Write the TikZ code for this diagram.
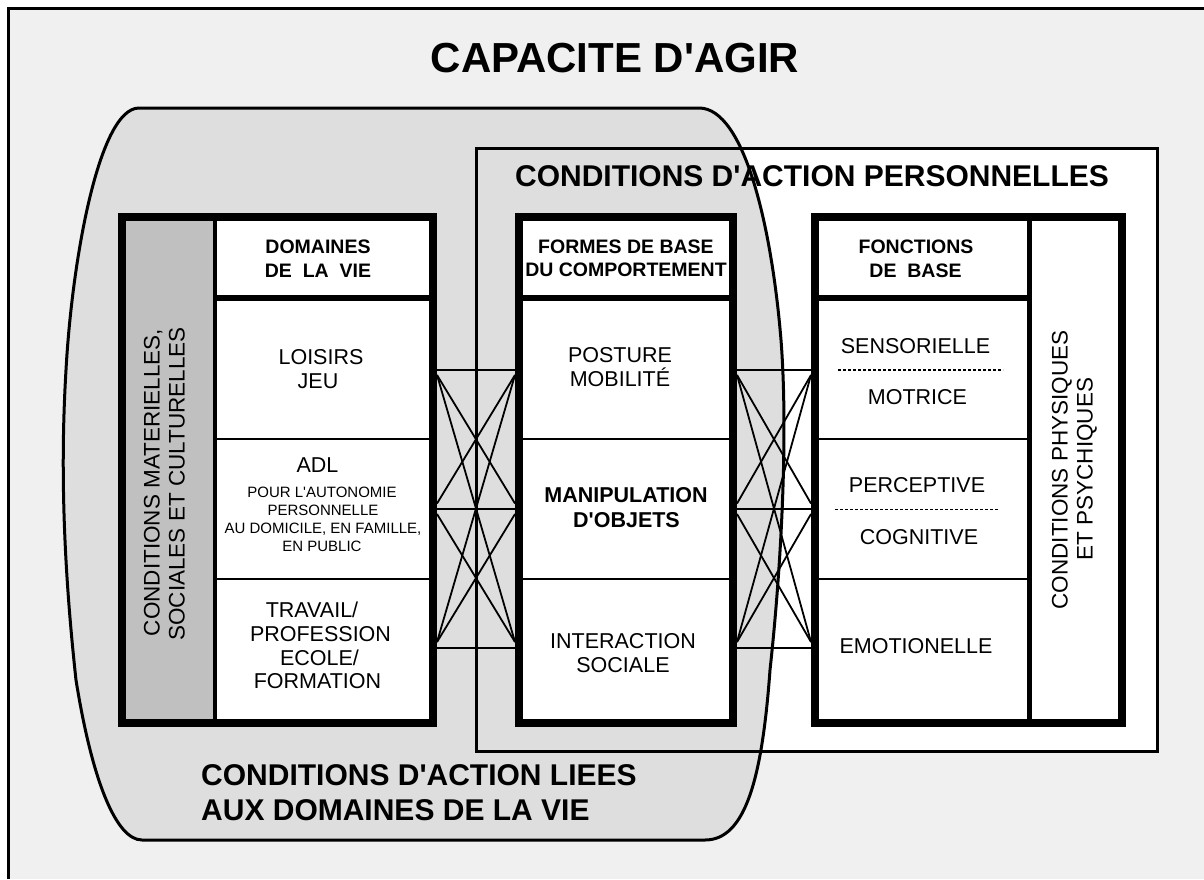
\documentclass[tikz,border=0pt]{standalone}
\usepackage{fontspec}
\setmainfont{Liberation Sans}[Ligatures=TeXOff]
\definecolor{pagebg}{RGB}{240,240,240}
\definecolor{shapebg}{RGB}{222,222,222}
\definecolor{stripbg}{RGB}{192,192,192}
\begin{document}
\begin{tikzpicture}[x=1pt,y=-1pt,
  colbox/.style={rectangle, draw=black, line width=8pt, fill=white, inner sep=0pt, outer sep=0pt},
  ttl/.style={inner sep=0pt, anchor=base, font=\bfseries\fontsize{42}{48}\selectfont},
  big/.style={inner sep=0pt, anchor=base, font=\bfseries\fontsize{30}{35}\selectfont},
  hdr/.style={inner sep=0pt, anchor=base, font=\bfseries\fontsize{19.5}{22}\selectfont},
  txt/.style={inner sep=0pt, anchor=base, font=\fontsize{21.5}{24}\selectfont},
  sub/.style={inner sep=0pt, anchor=base, font=\fontsize{15}{18}\selectfont},
  rot/.style={inner sep=0pt, anchor=base, rotate=90, font=\fontsize{22.5}{25}\selectfont},
  conn/.style={draw=black, line width=1.8pt},
  sepline/.style={draw=black, line width=6.5pt},
  rowline/.style={draw=black, line width=2pt},
  dashline/.style={draw=black, line width=1.5pt, dash pattern=on 3pt off 2pt}]
\useasboundingbox (0,0) rectangle (1204,879);
% page
\fill[white] (0,0) rectangle (1204,879);
\fill[pagebg] (8,8) rectangle (1204,879);
\draw[line width=3pt] (8,879) -- (8,8) -- (1204,8);
% personal conditions frame (fill)
\fill[white] (476,148) rectangle (1157.5,751.5);
% life domain shape
\draw[line width=3pt, fill=shapebg] (139,108) -- (699,108)
  .. controls (745,108) and (772,230) .. (781,340)
  .. controls (788,430) and (782,560) .. (770,670)
  .. controls (762,780) and (745,840) .. (705,840)
  -- (142,840)
  .. controls (116,840) and (92,780) .. (76,680)
  .. controls (64,570) and (60,470) .. (66,370)
  .. controls (72,260) and (99,108) .. (139,108) -- cycle;
% frame outline
\draw[line width=3pt] (476,148) rectangle (1157.5,751.5);
% big labels
\node[ttl] (title) at (615,72.5) {CAPACITE D'AGIR};
\node[big] (pers) at (812,186.5) {CONDITIONS D'ACTION PERSONNELLES};
\node[big, anchor=base west] (lie1) at (201,785.5) {CONDITIONS D'ACTION LIEES};
\node[big, anchor=base west] (lie2) at (201,820.5) {AUX DOMAINES DE LA VIE};
% connectors
\foreach \g/\xa/\xb in {A/437/515, B/737/811}{
  \coordinate (\g L1h) at (\xa,370);   \coordinate (\g R1h) at (\xb,370);
  \coordinate (\g L2h) at (\xa,509);   \coordinate (\g R2h) at (\xb,509);
  \coordinate (\g L3h) at (\xa,648);   \coordinate (\g R3h) at (\xb,648);
  \coordinate (\g L1d) at (\xa,375);   \coordinate (\g R1d) at (\xb,375);
  \coordinate (\g L2u) at (\xa,503.5); \coordinate (\g R2u) at (\xb,503.5);
  \coordinate (\g L2d) at (\xa,514);   \coordinate (\g R2d) at (\xb,514);
  \coordinate (\g L3u) at (\xa,642);   \coordinate (\g R3u) at (\xb,642);
  \draw[conn] (\g L1h) -- (\g R1h);
  \draw[conn] (\g L2h) -- (\g R2h);
  \draw[conn] (\g L3h) -- (\g R3h);
  \draw[conn] (\g L1d) -- (\g R2u);
  \draw[conn] (\g L1d) -- (\g R3u);
  \draw[conn] (\g R1d) -- (\g L2u);
  \draw[conn] (\g R1d) -- (\g L3u);
  \draw[conn] (\g L2d) -- (\g R3u);
  \draw[conn] (\g R2d) -- (\g L3u);
}
% columns
\node[colbox, minimum width=311pt, minimum height=506pt] (c1) at (277.5,470) {};
\node[colbox, minimum width=214pt, minimum height=506pt] (c2) at (626,470) {};
\node[colbox, minimum width=307pt, minimum height=506pt] (c3) at (968.5,470) {};
% column 1 interior
\fill[stripbg] (126,221) rectangle (213,719);
\draw[line width=4pt] (215,221) -- (215,719);
\draw[sepline] (217,298) -- (429,298);
\draw[rowline] (217,439) -- (429,439);
\draw[rowline] (217,579) -- (429,579);
% column 2 interior
\draw[sepline] (523,298) -- (729,298);
\draw[rowline] (523,439) -- (729,439);
\draw[rowline] (523,579) -- (729,579);
% column 3 interior
\draw[line width=5pt] (1029.5,221) -- (1029.5,719);
\draw[sepline] (819,298) -- (1027,298);
\draw[rowline] (819,439) -- (1027,439);
\draw[rowline] (819,579) -- (1027,579);
\coordinate (d1a) at (838,370);   \coordinate (d1b) at (1003,370);
\coordinate (d2a) at (835,509.5); \coordinate (d2b) at (999,509.5);
\draw[dashline] (d1a) -- (d1b);
\draw[dashline] (d2a) -- (d2b);
% column 1 texts
\node[rot] (r1a) at (159.5,482.5) {CONDITIONS MATERIELLES,};
\node[rot] (r1b) at (184.5,484) {SOCIALES ET CULTURELLES};
\node[hdr] (h1a) at (318,253) {DOMAINES};
\node[hdr] (h1b) at (318,277) {DE\ \ LA\ \ VIE};
\node[txt] (t1a) at (321,364) {LOISIRS};
\node[txt] (t1b) at (318,388) {JEU};
\node[txt] (t2a) at (317.5,472) {ADL};
\node[sub] (t2b) at (322,497) {POUR L'AUTONOMIE};
\node[sub] (t2c) at (323,515) {PERSONNELLE};
\node[sub] (t2d) at (323,533.5) {AU DOMICILE, EN FAMILLE,};
\node[sub] (t2e) at (322,551.5) {EN PUBLIC};
\node[txt] (t3a) at (312,617.5) {TRAVAIL/};
\node[txt] (t3b) at (320.5,641.5) {PROFESSION};
\node[txt] (t3c) at (319.5,665) {ECOLE/};
\node[txt] (t3d) at (317.5,688.5) {FORMATION};
% column 2 texts
\node[hdr] (h2a) at (626,253) {FORMES DE BASE};
\node[hdr] (h2b) at (626,276.5) {DU COMPORTEMENT};
\node[txt] (p1a) at (620,362) {POSTURE};
\node[txt] (p1b) at (620,386) {MOBILITÉ};
\node[txt, font=\bfseries\fontsize{21.5}{24}\selectfont] (p2a) at (626,502.5) {MANIPULATION};
\node[txt, font=\bfseries\fontsize{21.5}{24}\selectfont] (p2b) at (626.5,527) {D'OBJETS};
\node[txt] (p3a) at (623,648) {INTERACTION};
\node[txt] (p3b) at (623,672) {SOCIALE};
% column 3 texts
\node[hdr] (h3a) at (916,253.5) {FONCTIONS};
\node[hdr] (h3b) at (915.5,277) {DE\ \ BASE};
\node[txt] (f1a) at (915.5,353) {SENSORIELLE};
\node[txt] (f1b) at (917.5,404) {MOTRICE};
\node[txt] (f2a) at (917,492.5) {PERCEPTIVE};
\node[txt] (f2b) at (919,544) {COGNITIVE};
\node[txt] (f3a) at (916,653) {EMOTIONELLE};
\node[rot] (r3a) at (1067.5,470) {CONDITIONS PHYSIQUES};
\node[rot] (r3b) at (1092.5,469) {ET PSYCHIQUES};
\end{tikzpicture}
\end{document}
